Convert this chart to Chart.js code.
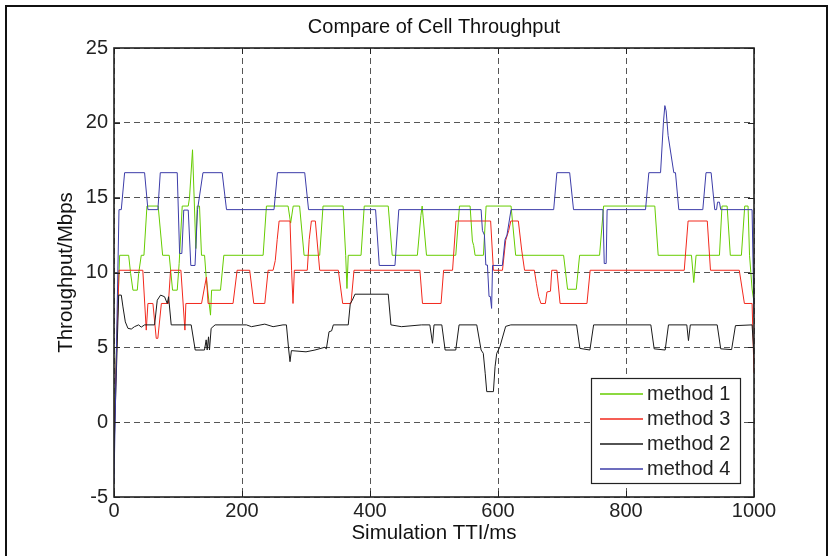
<!DOCTYPE html>
<html>
<head>
<meta charset="utf-8">
<script src="https://cdn.jsdelivr.net/npm/chart.js@4.4.1/dist/chart.umd.min.js"></script>
<style>
  html, body { margin: 0; padding: 0; background: #fff; }
  #wrap { width: 829px; height: 556px; }
</style>
</head>
<body>
<div id="wrap"><canvas id="tput" width="829" height="556"></canvas></div>
<script>
// tick values
const xTicks = [0, 200, 400, 600, 800, 1000];
const yTicks = [-5, 0, 5, 10, 15, 20, 25];

const chartTitle = "Compare of Cell Throughput";
const seriesNames = ["method 1", "method 3", "method 2", "method 4"];

// method 1 (green) - TTI (ms) / throughput (Mbps)
const m1Time = [0, 8.8, 22.9, 26, 29.6, 36.4, 38.5, 42.6, 46.8, 51.5, 69, 76, 86.3, 91.5, 98.8, 101.8, 106.6,
  116, 118, 122.7, 127.9, 130, 133.6, 136.7, 141.5, 144, 150.8, 152.5, 166.4, 171.6, 233, 238.2, 272, 276,
  280, 290, 297, 321.4, 326.6, 358, 362, 364, 366, 386, 391, 428.5, 434.7, 474, 479.5, 481.5, 483, 488.3,
  534, 539.8, 556.4, 560, 562, 564.2, 577.2, 581.4, 620.4, 627.6, 702.5, 708.7, 722.3, 727.5, 758.7, 765,
  845, 850.3, 902.3, 905.9, 909.5, 946, 950, 958, 963, 980.3, 985.5, 990.7, 993, 997, 1000];
const m1Rate = [0, 11.15, 11.15, 9.93, 8.82, 8.82, 9.93, 11.15, 11.15, 14.44, 14.44, 11.15, 11.15, 8.82, 8.82, 10.6, 14.44,
  14.44, 15.0, 18.2, 11.6, 14.44, 14.44, 11.15, 11.15, 9.7, 7.15, 8.82, 8.82, 11.15, 11.15, 14.44, 14.44, 13.3,
  14.44, 14.44, 11.15, 11.15, 14.44, 14.44, 11.15, 8.93, 11.15, 11.15, 14.44, 14.44, 11.15, 11.15, 13.8, 14.44, 13.7, 11.15,
  11.15, 14.44, 14.44, 12.1, 11.8, 11.15, 11.15, 14.44, 14.44, 11.15, 11.15, 8.88, 8.88, 11.15, 11.15, 14.44,
  14.44, 11.15, 11.15, 9.33, 11.15, 11.15, 14.44, 14.44, 11.15, 11.15, 14.44, 14.44, 11.15, 8.9, 8];

// method 3 (red)
const m3Time = [0, 7.8, 45, 50.4, 53, 60.8, 66, 68.5, 74, 85, 88.4, 104.5, 110.8, 112.3, 136.8, 142, 144.5, 147,
  186, 192.4, 212, 218.4, 235.6, 240.8, 248.6, 252, 255, 258, 275, 277.5, 279.7, 281.8, 302, 305, 308.4, 314.6,
  321.4, 350.5, 357.3, 370.3, 375, 478, 482, 511, 515, 529, 534.3, 588.5, 592.8, 607, 612, 616.7, 620, 631.8,
  637, 641.5, 656.8, 660, 663.5, 667, 674, 676.5, 682, 684, 692, 697, 739, 744, 891, 897, 927, 932, 977, 985,
  997, 1000];
const m3Rate = [-1, 10.15, 10.15, 6.15, 7.93, 7.93, 5.6, 5.6, 7.93, 7.93, 10.15, 10.15, 6.15, 7.93, 7.93, 9.15, 9.7, 7.93,
  7.93, 10.15, 10.15, 7.93, 7.93, 10.15, 10.15, 10.8, 12.2, 13.44, 13.44, 10.15, 7.93, 10.15, 10.15, 12.2, 13.44, 13.44,
  10.15, 10.15, 7.93, 7.93, 10.15, 10.15, 7.93, 7.93, 10.15, 10.15, 13.44, 13.44, 10.15, 10.15, 12.15, 12.8, 13.44, 13.44,
  11.5, 10.15, 10.15, 9.27, 8.4, 7.93, 7.93, 8.7, 8.75, 10.15, 10.15, 7.93, 7.93, 10.15, 10.15, 13.44, 13.44, 10.15, 10.15, 7.93,
  7.93, 3.3];

// method 2 (black)
const m2Time = [0, 7.3, 11.4, 14, 17.7, 21.8, 27, 32, 38.5, 42.6, 47.8, 63.4, 67.6, 72.8, 79, 83.2, 85.3, 89.4,
  120.6, 126.9, 141.4, 144, 145.6, 147.7, 149.2, 151.8, 158, 207, 214.8, 235.6, 248.6, 264, 269.4, 273, 275,
  277.2, 300, 314, 329, 331.8, 336, 340, 342.7, 366, 369.2, 372.4, 376.5, 428.5, 432.7, 449, 480.5, 493.5,
  497.7, 500, 512.2, 517.4, 534, 539.2, 566.8, 573.6, 577, 580, 582.4, 592.8, 595.4, 598, 600.6, 603, 612, 620,
  722.8, 728, 743.6, 749.4, 838.8, 844, 861.2, 866.4, 895, 897.6, 900.5, 942.5, 948, 965, 971, 997, 1000];
const m2Rate = [-2, 8.49, 8.49, 7.7, 6.7, 6.27, 6.22, 6.38, 6.5, 6.35, 6.5, 6.5, 8.15, 8.49, 8.38, 7.93, 8.38, 6.5,
  6.5, 4.82, 4.82, 5.5, 4.82, 5.7, 4.82, 6.27, 6.5, 6.5, 6.38, 6.55, 6.38, 6.5, 6.5, 4.82, 4.04,
  4.78, 4.7, 4.82, 5.0, 4.9, 6.04, 6.1, 6.5, 6.5, 7.93, 8.15, 8.55, 8.55, 6.5, 6.38, 6.5, 6.5,
  5.27, 6.5, 6.5, 4.82, 4.82, 6.5, 6.5, 4.82, 4.6, 3.27, 2.04, 2.04, 3.7, 4.6, 4.82, 5.05, 6.4, 6.5,
  6.5, 4.93, 4.82, 6.5, 6.5, 4.9, 4.82, 6.5, 6.5, 5.45, 6.5, 6.5, 4.9, 4.85, 6.45, 6.5, 4.5];

// method 4 (blue)
const m4Time = [0, 7.8, 11.4, 16.6, 47.8, 53, 68.6, 72.3, 98.8, 102.5, 106, 109, 116, 120, 126.6, 130.5, 139,
  169, 175.8, 250, 255.4, 298, 304, 408.7, 414.5, 439, 445, 573.6, 575.7, 578.8, 581, 583.5, 586, 588, 590,
  591.5, 606.8, 611, 614, 620.4, 687, 692, 712, 718, 764, 766, 769, 770.5, 830.5, 835.7, 854, 858.5, 860.7,
  862.7, 865.8, 874.7, 877.3, 882.5, 920, 925, 933, 938.7, 941.5, 943, 946, 948, 997, 1000];
const m4Rate = [-4, 14.2, 14.2, 16.67, 16.67, 14.2, 14.2, 16.67, 16.67, 11.27, 11.27, 14.17, 14.17, 10.47, 10.47, 14.2, 16.67,
  16.67, 14.2, 14.2, 16.67, 16.67, 14.2, 14.2, 10.47, 10.47, 14.2, 14.2, 12.8, 12.5, 10.5, 10.5, 8.4, 8.4, 7.6,
  10.47, 10.47, 12.2, 12.5, 14.2, 14.2, 16.67, 16.67, 14.2, 14.2, 10.6, 10.6, 14.2, 14.2, 16.67, 16.67, 20.04, 21.15,
  20.8, 19.15, 16.67, 16.67, 14.2, 14.2, 16.67, 16.67, 14.2, 14.2, 14.7, 14.7, 14.2, 14.2, 7];

const FONT = "'Liberation Sans', Arial, Helvetica, sans-serif";
const lineColors = ["#66cc00", "#f2281c", "#1a1a1a", "#3c3ca8"];

function toPoints(times, rates) {
  return times.map((t, i) => ({ x: t, y: rates[i] }));
}

// title, axes box, inner tick marks, legend and the figure border
const boxPlugin = {
  id: "box",
  afterDatasetsDraw(chart) {
    const { ctx, chartArea: a, scales } = chart;
    ctx.save();
    ctx.strokeStyle = "#222";
    ctx.lineWidth = 1;
    ctx.beginPath();
    yTicks.forEach((v) => {
      const y = Math.round(scales.y.getPixelForValue(v)) + 0.5;
      ctx.moveTo(a.left, y); ctx.lineTo(a.left + 6, y);
      ctx.moveTo(a.right, y); ctx.lineTo(a.right - 6, y);
    });
    xTicks.forEach((v) => {
      const x = Math.round(scales.x.getPixelForValue(v)) + 0.5;
      ctx.moveTo(x, a.bottom); ctx.lineTo(x, a.bottom - 6);
      ctx.moveTo(x, a.top); ctx.lineTo(x, a.top + 6);
    });
    ctx.stroke();
    ctx.lineWidth = 1.6;
    ctx.strokeRect(a.left, a.top, a.right - a.left, a.bottom - a.top);

    // title over the plot centre
    ctx.fillStyle = "#111";
    ctx.font = "20px " + FONT;
    ctx.textAlign = "center";
    ctx.textBaseline = "middle";
    ctx.fillText(chartTitle, (a.left + a.right) / 2, 27);
    ctx.restore();
  },
  afterDraw(chart) {
    const { ctx } = chart;
    ctx.save();
    // legend
    const lx = 591, ly = 378, lw = 149, lh = 105;
    ctx.fillStyle = "#fff";
    ctx.fillRect(lx, ly, lw, lh);
    ctx.strokeStyle = "#222";
    ctx.lineWidth = 1.2;
    ctx.strokeRect(lx + 0.5, ly + 0.5, lw, lh);
    ctx.font = "20px " + FONT;
    ctx.textBaseline = "middle";
    ctx.textAlign = "left";
    for (let i = 0; i < seriesNames.length; i++) {
      const y = ly + 16 + i * 25;
      ctx.beginPath();
      ctx.strokeStyle = lineColors[i];
      ctx.lineWidth = 1.5;
      ctx.moveTo(lx + 9, y);
      ctx.lineTo(lx + 52, y);
      ctx.stroke();
      ctx.fillStyle = "#222";
      ctx.fillText(seriesNames[i], lx + 56, y + 0.5);
    }
    // figure border
    ctx.strokeStyle = "#111";
    ctx.lineWidth = 2;
    ctx.strokeRect(6, 6, 821, 600);
    ctx.restore();
  }
};

new Chart(document.getElementById("tput"), {
  type: "line",
  data: {
    datasets: [
      { label: seriesNames[0], data: toPoints(m1Time, m1Rate), borderColor: lineColors[0], order: 4 },
      { label: seriesNames[1], data: toPoints(m3Time, m3Rate), borderColor: lineColors[1], order: 3 },
      { label: seriesNames[2], data: toPoints(m2Time, m2Rate), borderColor: lineColors[2], order: 2 },
      { label: seriesNames[3], data: toPoints(m4Time, m4Rate), borderColor: lineColors[3], order: 1 }
    ]
  },
  options: {
    responsive: false,
    animation: false,
    devicePixelRatio: 1,
    layout: { padding: { left: 0, right: 75, top: 48, bottom: 0 } },
    elements: {
      point: { radius: 0 },
      line: { borderWidth: 1, tension: 0, fill: false }
    },
    plugins: {
      legend: { display: false },
      tooltip: { enabled: false },
      title: { display: false }
    },
    scales: {
      x: {
        type: "linear",
        min: 0,
        max: 1000,
        afterBuildTicks: (s) => { s.ticks = xTicks.map((v) => ({ value: v })); },
        afterFit: (s) => { s.height = 59; },
        ticks: {
          color: "#222",
          font: { family: FONT, size: 20 },
          padding: 2.5,
          maxRotation: 0,
          callback: (v) => String(v)
        },
        grid: { color: "#555", lineWidth: 1, drawTicks: false },
        border: { display: false, dash: [6, 4] },
        title: {
          display: true,
          text: "Simulation TTI/ms",
          color: "#111",
          font: { family: FONT, size: 20.5 },
          padding: { top: 0, bottom: 10.7 }
        }
      },
      y: {
        type: "linear",
        min: -5,
        max: 25,
        afterBuildTicks: (s) => { s.ticks = yTicks.map((v) => ({ value: v })); },
        afterFit: (s) => { s.width = 114; },
        ticks: {
          color: "#222",
          font: { family: FONT, size: 20 },
          padding: 6,
          callback: (v) => String(v)
        },
        grid: { color: "#555", lineWidth: 1, drawTicks: false },
        border: { display: false, dash: [6, 4] },
        title: {
          display: true,
          text: "Throughput/Mbps",
          color: "#111",
          font: { family: FONT, size: 20.5 },
          padding: { top: 53.7, bottom: 0 }
        }
      }
    }
  },
  plugins: [boxPlugin]
});
</script>
</body>
</html>
